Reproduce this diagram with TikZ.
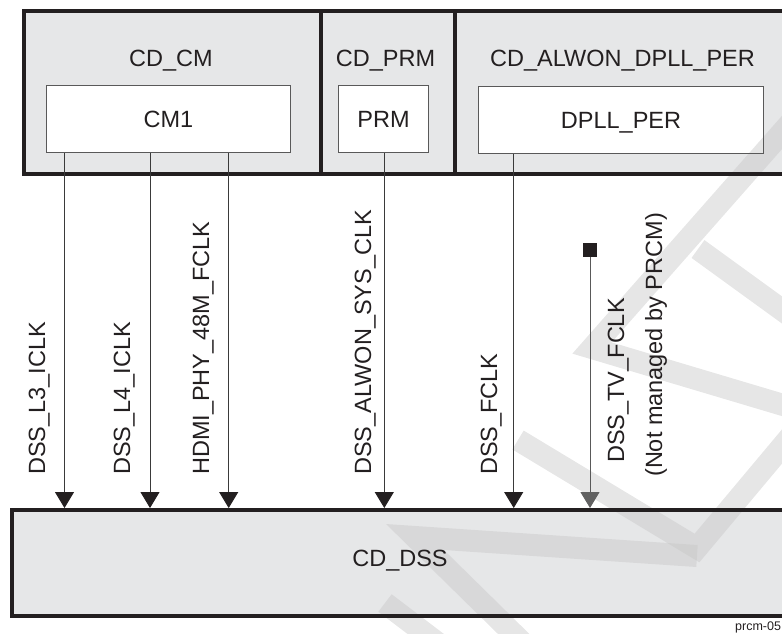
\documentclass[tikz,border=0pt]{standalone}
\usepackage{fontspec}
\setmainfont{Liberation Sans}
\usetikzlibrary{arrows.meta}
\pgfdeclarelayer{bg}
\pgfdeclarelayer{wm}
\pgfsetlayers{bg,wm,main}
\definecolor{boxgray}{HTML}{E6E7E8}
\definecolor{ink}{HTML}{231F20}
\definecolor{linegray}{HTML}{3A3A3A}
\begin{document}
\begin{tikzpicture}[x=1pt,y=-1pt,
  cdbox/.style={draw=ink, line width=4pt, inner sep=0pt, anchor=north west},
  modbox/.style={draw=black!65, line width=1pt, inner sep=0pt, anchor=north west,
    font=\fontsize{23.5}{28}\selectfont, text=ink, text height=16.8pt, text depth=0pt},
  ttl/.style={font=\fontsize{23.5}{28}\selectfont, text=ink, inner sep=0pt, anchor=base},
  siglbl/.style={font=\fontsize{23.5}{28}\selectfont, text=ink, inner sep=0pt, rotate=90, anchor=base west},
  clkarrow/.style={draw=linegray, line width=0.9pt, -{Triangle[width=19pt,length=16pt,color=ink]}},
  tvarrow/.style={draw=black!65, line width=0.9pt, -{Triangle[width=19pt,length=16pt,color=black!62]}},
  wmark/.style={draw=black!22, draw opacity=0.45, line width=22pt, line join=miter},
]
\useasboundingbox (0,0) rectangle (782,633);

% clock domains
\node[cdbox, minimum width=297pt, minimum height=163pt] (cdcm) at (22,9) {};
\node[cdbox, minimum width=134pt, minimum height=163pt] (cdprm) at (319,9) {};
\node[cdbox, minimum width=347pt, minimum height=163pt] (cdper) at (453,9) {};
\node[cdbox, minimum width=790pt, minimum height=106pt] (dss) at (9.5,508) {};

% modules
\node[modbox, minimum width=244pt, minimum height=67pt] (cm1) at (46,85) {CM1};
\node[modbox, minimum width=90pt, minimum height=67pt] (prm) at (338,85) {PRM};
\node[modbox, minimum width=285pt, minimum height=67pt] (dpll) at (478,86) {DPLL\_PER};

% fills
\begin{pgfonlayer}{bg}
\fill[boxgray] (cdcm.north west) rectangle (cdper.south east);
\fill[boxgray] (dss.north west) rectangle (dss.south east);
\fill[white] (cm1.north west) rectangle (cm1.south east);
\fill[white] (prm.north west) rectangle (prm.south east);
\fill[white] (dpll.north west) rectangle (dpll.south east);
\end{pgfonlayer}

% watermark
\begin{pgfonlayer}{wm}
\draw[wmark] (800,112) -- (592,348) -- (800,410);
\draw[wmark] (698,249) -- (800,323);
\draw[wmark] (518,440) -- (697,548) -- (800,425);
\draw[wmark] (697,556) -- (415,537) -- (530,650);
\draw[wmark] (385,603) -- (460,660);
\end{pgfonlayer}

% titles
\node[ttl] (tcm) at (171,66) {CD\_CM};
\node[ttl] (tprm) at (385.5,66) {CD\_PRM};
\node[ttl] (tper) at (622.5,66) {CD\_ALWON\_DPLL\_PER};
\node[ttl] (tdss) at (400,566) {CD\_DSS};

% clock columns
\coordinate (c1) at (64.5,0);
\coordinate (c2) at (150,0);
\coordinate (c3) at (228.7,0);
\coordinate (c4) at (384.3,0);
\coordinate (c5) at (513.7,0);
\coordinate (c6) at (590,0);

\draw[clkarrow] (c1 |- cm1.south) -- (c1 |- dss.north);
\draw[clkarrow] (c2 |- cm1.south) -- (c2 |- dss.north);
\draw[clkarrow] (c3 |- cm1.south) -- (c3 |- dss.north);
\draw[clkarrow] (c4 |- prm.south) -- (c4 |- dss.north);
\draw[clkarrow] (c5 |- dpll.south) -- (c5 |- dss.north);

\node[fill=ink, minimum size=14pt, inner sep=0pt] (sq) at (590,250) {};
\draw[tvarrow] (sq.south) -- (c6 |- dss.north);

% signal labels
\node[siglbl] (l1) at (45,475) {DSS\_L3\_ICLK};
\node[siglbl] (l2) at (130,475) {DSS\_L4\_ICLK};
\node[siglbl] (l3) at (209,475) {HDMI\_PHY\_48M\_FCLK};
\node[siglbl] (l4) at (371,475) {DSS\_ALWON\_SYS\_CLK};
\node[siglbl] (l5) at (497,475) {DSS\_FCLK};
\node[siglbl] (l6) at (624,463) {DSS\_TV\_FCLK};
\node[siglbl] (l7) at (662,477) {(Not managed by PRCM)};

\node[font=\fontsize{12.5}{15}\selectfont, anchor=base west, inner sep=0pt, text=ink] (fig) at (735,630) {prcm-05};
\end{tikzpicture}
\end{document}
